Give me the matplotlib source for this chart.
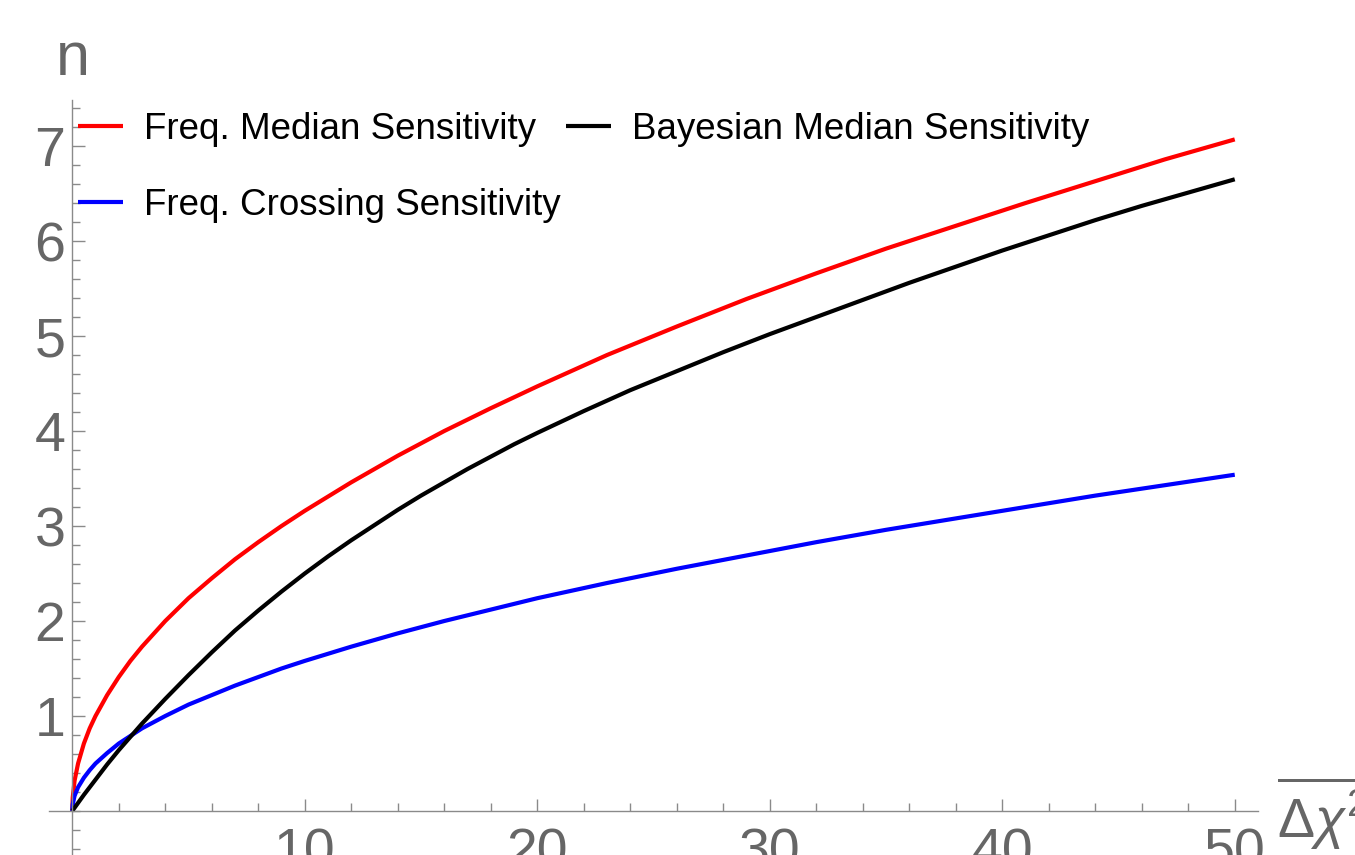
import numpy as np
import matplotlib
matplotlib.use("Agg")
import matplotlib.pyplot as plt
from matplotlib.ticker import FixedLocator, MultipleLocator

plt.rcParams["font.family"] = "Liberation Sans"
plt.rcParams["mathtext.fontset"] = "custom"
plt.rcParams["mathtext.rm"] = "Liberation Sans"
plt.rcParams["mathtext.it"] = "Liberation Sans:italic"

# Values
dchi2 = [0, 0.02, 0.1, 0.25, 0.5, 0.75, 1, 1.5, 2, 2.5, 3, 4, 5, 6, 7, 8, 9, 10,
         12, 14, 16, 18, 20, 23, 26, 29, 32, 35, 38, 41, 44, 47, 50]
freq_median = [0, 0.14, 0.32, 0.5, 0.71, 0.87, 1.0, 1.22, 1.41, 1.58, 1.73, 2.0, 2.24, 2.45,
               2.65, 2.83, 3.0, 3.16, 3.46, 3.74, 4.0, 4.24, 4.47, 4.80, 5.10, 5.39, 5.66,
               5.92, 6.16, 6.40, 6.63, 6.86, 7.07]
freq_crossing = [0, 0.07, 0.16, 0.25, 0.35, 0.43, 0.5, 0.61, 0.71, 0.79, 0.87, 1.0, 1.12, 1.22,
                 1.32, 1.41, 1.5, 1.58, 1.73, 1.87, 2.0, 2.12, 2.24, 2.40, 2.55, 2.69, 2.83,
                 2.96, 3.08, 3.20, 3.32, 3.43, 3.54]

dchi2_bayes = [0, 0.5, 1, 1.5, 2, 2.5, 3, 4, 5, 6, 7, 8, 9, 10, 11, 12, 13, 14, 15, 16, 17,
               18, 19, 20, 22, 24, 26, 28, 30, 32, 34, 36, 38, 40, 42, 44, 46, 48, 50]
bayes_median = [0, 0.17, 0.33, 0.49, 0.64, 0.78, 0.92, 1.18, 1.43, 1.67, 1.90, 2.11, 2.31,
                2.50, 2.68, 2.85, 3.01, 3.17, 3.32, 3.46, 3.60, 3.73, 3.86, 3.98, 4.21, 4.43,
                4.63, 4.83, 5.02, 5.20, 5.38, 5.56, 5.73, 5.90, 6.06, 6.22, 6.37, 6.51, 6.65]

xticks = [10, 20, 30, 40, 50]
yticks = [1, 2, 3, 4, 5, 6, 7]

W, H = 1355, 855
fig = plt.figure(figsize=(W / 100, H / 100), dpi=100)

# axes placed in pixels: x -1..51 -> 49..1258, y -0.5..7.49 -> 858.5..99.5
x0, x1 = 49, 1258
ytop, ybot = 99.5, 858.5
ax = fig.add_axes([x0 / W, (H - ybot) / H, (x1 - x0) / W, (ybot - ytop) / H])
ax.set_xlim(-1, 51)
ax.set_ylim(-0.5, 7.49)

style = dict(lw=3.0, solid_capstyle="butt", solid_joinstyle="round")
ax.plot(dchi2, freq_median, color="#ff0000", label="Freq. Median Sensitivity", **style)
ax.plot(dchi2, freq_crossing, color="#0000ff", label="Freq. Crossing Sensitivity", **style)
ax.plot(dchi2_bayes, bayes_median, color="black", label="Bayesian Median Sensitivity", **style)

axis_grey = "#8a8a8a"
label_grey = "#666666"
for side in ["top", "right"]:
    ax.spines[side].set_visible(False)
ax.spines["left"].set_position(("data", 0))
ax.spines["bottom"].set_position(("data", 0))
for side in ["left", "bottom"]:
    ax.spines[side].set_color(axis_grey)
    ax.spines[side].set_linewidth(1.0)
ax.patch.set_visible(False)

ax.xaxis.set_major_locator(FixedLocator(xticks))
ax.xaxis.set_minor_locator(MultipleLocator(2))
ax.yaxis.set_major_locator(FixedLocator(yticks))
ax.yaxis.set_minor_locator(MultipleLocator(0.2))
ax.tick_params(which="major", direction="in", length=9, width=1, color=axis_grey,
               labelsize=40, labelcolor=label_grey)
ax.tick_params(which="minor", direction="in", length=5.5, width=1, color=axis_grey)
ax.tick_params(axis="x", which="major", pad=12)
ax.tick_params(axis="y", which="major", pad=5)

# legend: two columns, red/blue in the first, black in the second
leg = ax.legend(ncol=2, frameon=False, fontsize=26.5, handlelength=1.22, handletextpad=0.57,
                columnspacing=0.15, labelspacing=1.12, borderpad=0, borderaxespad=0,
                loc="upper left", bbox_to_anchor=(78 / W, (H - 112) / H),
                bbox_transform=fig.transFigure)

# axis labels
fig.text(73 / W, (H - 75) / H, "n", fontsize=44, color=label_grey, ha="center", va="baseline")
fig.text(1277 / W, (H - 837) / H, r"$\overline{\Delta\chi^2}$", fontsize=40, color=label_grey,
         ha="left", va="baseline")

fig.savefig("out.png", dpi=100)
